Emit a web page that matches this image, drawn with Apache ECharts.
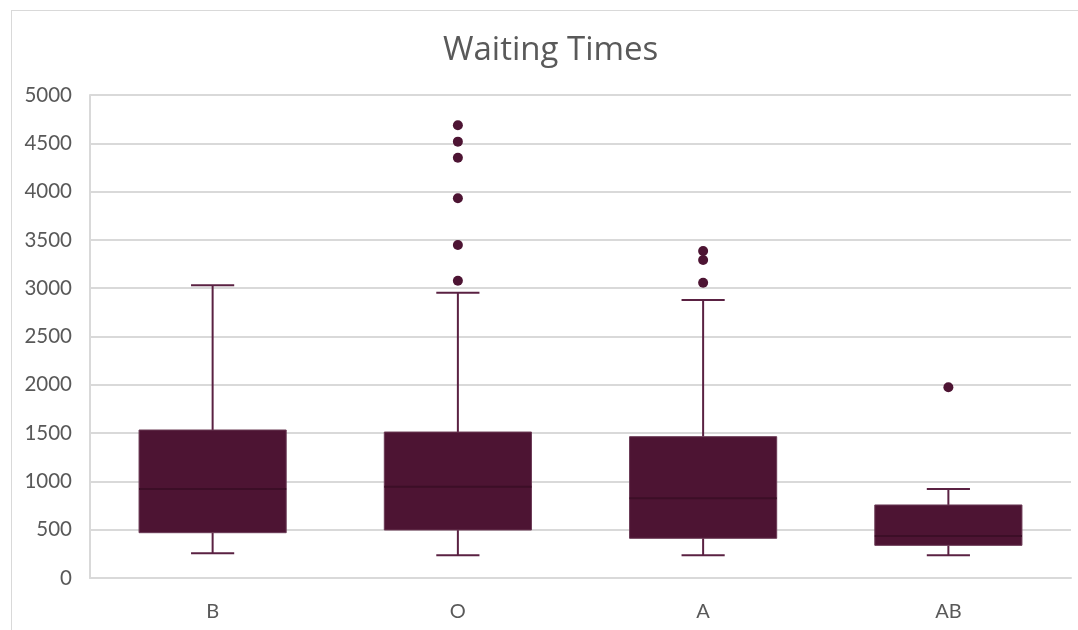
<!DOCTYPE html>
<html>
<head>
<meta charset="utf-8">
<script src="https://cdn.jsdelivr.net/npm/echarts@6/dist/echarts.min.js"></script>
<style>
html,body{margin:0;padding:0;background:#fff;}
#frame{position:absolute;left:11px;top:10px;width:1080px;height:640px;border:1px solid #d9d9d9;box-sizing:border-box;}
#chart{position:absolute;left:0;top:0;width:1078px;height:630px;}
</style>
</head>
<body>
<div id="frame"></div>
<div id="chart"></div>
<script>
const categories = ['B', 'O', 'A', 'AB'];
const whiskerLow = [256, 235, 235, 235];
const q1 = [469, 497, 411, 338];
const median = [921, 945, 825, 435];
const q3 = [1532, 1511, 1463, 756];
const whiskerHigh = [3030, 2953, 2878, 921];
const outliersO = [4686, 4517, 4351, 3931, 3447, 3078];
const outliersA = [3385, 3292, 3057];
const outliersAB = [1974];
const yTicks = [0, 500, 1000, 1500, 2000, 2500, 3000, 3500, 4000, 4500, 5000];

const boxData = categories.map((c, i) => [i, whiskerLow[i], q1[i], median[i], q3[i], whiskerHigh[i]]);
const outlierData = []
  .concat(outliersO.map(v => ['O', v]))
  .concat(outliersA.map(v => ['A', v]))
  .concat(outliersAB.map(v => ['AB', v]));

const FILL = '#4d1433';
const LINE = '#5a2142';
const MED = '#3c0e27';

function renderBox(params, api) {
  const idx = api.value(0);
  const lo = api.coord([idx, api.value(1)]);
  const b1 = api.coord([idx, api.value(2)]);
  const md = api.coord([idx, api.value(3)]);
  const b3 = api.coord([idx, api.value(4)]);
  const hi = api.coord([idx, api.value(5)]);
  const bandW = api.size([1, 0])[0];
  const boxW = bandW * 0.6;
  const capW = bandW * 0.176;
  const x = lo[0];
  return {
    type: 'group',
    children: [
      { type: 'line', shape: { x1: x, y1: hi[1], x2: x, y2: b3[1] }, style: { stroke: LINE, lineWidth: 2 } },
      { type: 'line', shape: { x1: x - capW / 2, y1: hi[1], x2: x + capW / 2, y2: hi[1] }, style: { stroke: LINE, lineWidth: 2 } },
      { type: 'line', shape: { x1: x, y1: lo[1], x2: x, y2: b1[1] }, style: { stroke: LINE, lineWidth: 2 } },
      { type: 'line', shape: { x1: x - capW / 2, y1: lo[1], x2: x + capW / 2, y2: lo[1] }, style: { stroke: LINE, lineWidth: 2 } },
      { type: 'rect', shape: { x: x - boxW / 2, y: b3[1], width: boxW, height: b1[1] - b3[1] }, style: { fill: FILL, stroke: '#6b3a55', lineWidth: 1 } },
      { type: 'line', shape: { x1: x - boxW / 2, y1: md[1], x2: x + boxW / 2, y2: md[1] }, style: { stroke: MED, lineWidth: 2 } }
    ]
  };
}

const chart = echarts.init(document.getElementById('chart'), null, { renderer: 'canvas' });
chart.setOption({
  backgroundColor: 'transparent',
  animation: false,
  title: {
    text: 'Waiting Times',
    left: 438,
    top: 29,
    textStyle: { fontFamily: 'Open Sans', fontWeight: 'normal', fontSize: 33, color: '#595959' }
  },
  grid: { left: 90, right: 7, top: 95, bottom: 52, containLabel: false },
  xAxis: {
    type: 'category',
    data: categories,
    axisLine: { show: true, lineStyle: { color: '#d9d9d9', width: 2 } },
    axisTick: { show: false },
    axisLabel: { fontFamily: 'Lato', fontSize: 20, color: '#595959', margin: 24 },
    splitLine: { show: false }
  },
  yAxis: {
    type: 'value',
    min: 0,
    max: 5000,
    interval: 500,
    axisLine: { show: true, lineStyle: { color: '#d9d9d9', width: 2 } },
    axisTick: { show: false },
    axisLabel: { fontFamily: 'Lato', fontSize: 20.5, color: '#595959', margin: 18,
      formatter: v => (yTicks.indexOf(v) >= 0 ? String(v) : '') },
    splitLine: { lineStyle: { color: '#d9d9d9', width: 2 } }
  },
  series: [
    {
      type: 'custom',
      renderItem: renderBox,
      encode: { x: 0, y: [1, 2, 3, 4, 5] },
      data: boxData,
      z: 3
    },
    {
      type: 'scatter',
      data: outlierData,
      symbol: 'circle',
      symbolSize: 10,
      itemStyle: { color: FILL, opacity: 1 },
      z: 4
    }
  ]
});
</script>
</body>
</html>
